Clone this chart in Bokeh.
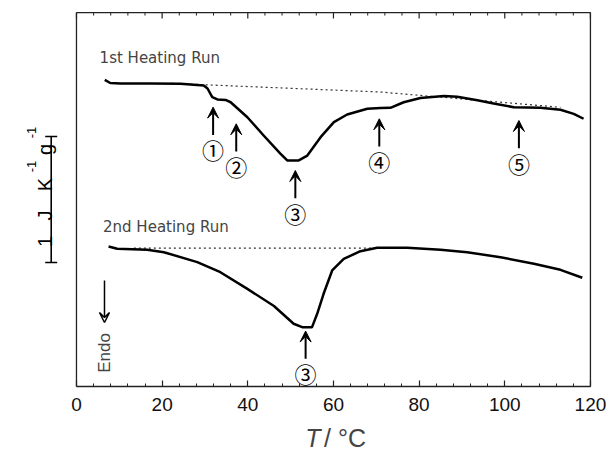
import numpy as np
from bokeh.plotting import figure
from bokeh.layouts import column
from bokeh.models import Range1d, FixedTicker, Arrow, VeeHead, Label
from bokeh.embed import file_html
from bokeh.resources import INLINE

# ---------------- data (T in degC, heat capacity offset in J K-1 g-1) ----------------
t_run1 = [6.6, 7.9, 10.3, 17.3, 24.3, 29.7, 30.6, 31.7, 32.9, 34.8, 36.0, 39.9, 43.7,
          47.6, 49.2, 51.9, 53.9, 57.0, 60.1, 63.2, 67.9, 71.0, 73.3, 76.4, 80.3, 85.8,
          88.9, 93.6, 97.4, 102.1, 108.3, 113.0, 116.1, 118.4]
c_run1 = [2.434, 2.409, 2.405, 2.405, 2.402, 2.389, 2.365, 2.296, 2.278, 2.274, 2.256,
          2.137, 1.992, 1.849, 1.794, 1.794, 1.833, 1.979, 2.098, 2.159, 2.204, 2.210,
          2.212, 2.256, 2.290, 2.305, 2.300, 2.272, 2.246, 2.217, 2.212, 2.196, 2.164, 2.125]
t_base1 = [22.0, 71.0, 113.0]
c_base1 = [2.406, 2.337, 2.216]

t_run2 = [7.5, 9.5, 16.5, 20.4, 28.2, 33.6, 39.9, 46.1, 50.7, 52.7, 55.0, 56.2, 57.7,
          59.7, 62.4, 66.3, 70.2, 77.2, 85.0, 91.2, 99.0, 106.8, 113.0, 118.1]
c_run2 = [1.111, 1.093, 1.085, 1.066, 0.987, 0.907, 0.775, 0.639, 0.498, 0.471, 0.471,
          0.577, 0.736, 0.921, 1.013, 1.074, 1.101, 1.101, 1.085, 1.066, 1.026, 0.974,
          0.926, 0.863]
t_base2 = [13.4, 70.0]
c_base2 = [1.098, 1.098]

# transition markers: label, temperature, arrow tip level
peak_labels = ["\u2460", "\u2461", "\u2462", "\u2463", "\u2464", "\u2462"]
peak_T = [31.9, 37.3, 51.1, 70.7, 103.3, 53.5]
peak_tip = [2.217, 2.085, 1.714, 2.125, 2.111, 0.440]

x_major = [0, 20, 40, 60, 80, 100, 120]
x_minor = [t for t in range(0, 121, 4) if t % 20 != 0]

scale_bar_base = 0.984    # J K-1 g-1
scale_bar_len = 1.0       # J K-1 g-1

X0, X1 = 0, 120           # box extent (degC)
Y_TOP = 2.968             # top of the box

# ---------------- main figure ----------------
p = figure(width=609, height=420, output_backend="svg", toolbar_location=None,
           x_range=Range1d(-13.07, 120.95), y_range=Range1d(0, 3.0),
           y_axis_location=None, min_border_left=20, min_border_right=15,
           min_border_top=8, min_border_bottom=34)
p.outline_line_color = None
p.grid.grid_line_color = None
p.background_fill_color = "white"
p.border_fill_color = "white"

ax = p.below[0]
ax.ticker = FixedTicker(ticks=x_major, minor_ticks=x_minor + x_major)
ax.bounds = (X0, X1)
ax.axis_line_color = "#222222"
ax.axis_line_width = 1.3
ax.major_tick_in = 6
ax.major_tick_out = 0
ax.minor_tick_in = 3
ax.minor_tick_out = 0
ax.major_tick_line_color = "#222222"
ax.minor_tick_line_color = "#222222"
ax.major_tick_line_width = 1.2
ax.minor_tick_line_width = 1.0
ax.major_label_text_font = "Liberation Sans"
ax.major_label_text_font_size = "19px"
ax.major_label_text_color = "#111111"
ax.major_label_standoff = 11

# box: left, right, top borders
p.segment(x0=[X0, X1, X0], y0=[0, 0, Y_TOP], x1=[X0, X1, X1], y1=[Y_TOP, Y_TOP, Y_TOP],
          line_color="#222222", line_width=1.3)
# top inward ticks
p.segment(x0=x_major, y0=[Y_TOP] * len(x_major), x1=x_major,
          y1=[Y_TOP - 0.048] * len(x_major), line_color="#222222", line_width=1.2)
p.segment(x0=x_minor, y0=[Y_TOP] * len(x_minor), x1=x_minor,
          y1=[Y_TOP - 0.024] * len(x_minor), line_color="#222222", line_width=1.0)

# curves
p.line(t_base1, c_base1, line_color="#333333", line_width=1.2, line_dash="2 3")
p.line(t_base2, c_base2, line_color="#333333", line_width=1.2, line_dash="2 3")
p.line(t_run1, c_run1, line_color="black", line_width=2.5, line_join="round")
p.line(t_run2, c_run2, line_color="black", line_width=2.5, line_join="round")

# transition arrows and circled numbers
arrow_len = 0.22
label_gap = 0.115
for lab, t, tip in zip(peak_labels, peak_T, peak_tip):
    p.add_layout(Arrow(x_start=t, y_start=tip - arrow_len, x_end=t, y_end=tip,
                       line_width=2, line_color="black",
                       end=VeeHead(size=11, line_color="black", fill_color="black", line_width=1)))
    p.add_layout(Label(x=t, y=tip - arrow_len - label_gap, text=lab,
                       text_align="center", text_baseline="middle",
                       text_font="Noto Sans CJK JP", text_font_size="22px", text_color="black"))

# run labels
p.add_layout(Label(x=5.4, y=2.611, text="1st Heating Run", text_align="left",
                   text_baseline="middle", text_font="DejaVu Sans", text_font_size="15px"))
p.add_layout(Label(x=6.2, y=1.264, text="2nd Heating Run", text_align="left",
                   text_baseline="middle", text_font="DejaVu Sans", text_font_size="15px"))

# Endo arrow
p.add_layout(Arrow(x_start=6.54, y_start=0.841, x_end=6.54, y_end=0.508, line_width=1.5,
                   line_color="black",
                   end=VeeHead(size=10, line_color="black", fill_color="white", line_width=1.5)))
p.add_layout(Label(x=6.54, y=0.266, text="Endo", angle=90, angle_units="deg",
                   text_align="center", text_baseline="middle",
                   text_font="Liberation Sans", text_font_size="17px"))

# scale bar
sb_x = -5.9
sb_cap = 1.4
p.segment(x0=[sb_x, sb_x - sb_cap, sb_x - sb_cap],
          y0=[scale_bar_base, scale_bar_base, scale_bar_base + scale_bar_len],
          x1=[sb_x, sb_x + sb_cap, sb_x + sb_cap],
          y1=[scale_bar_base + scale_bar_len, scale_bar_base, scale_bar_base + scale_bar_len],
          line_color="black", line_width=1.6)
unit_parts = [("1", 1.151, False), ("J", 1.357, False), ("K", 1.603, False),
              ("-1", 1.746, True), ("g", 1.881, False), ("-1", 2.016, True)]
for txt, yy, sup in unit_parts:
    p.add_layout(Label(x=-10.5 if sup else -7.24, y=yy, text=txt, angle=90, angle_units="deg",
                       text_align="center", text_baseline="alphabetic",
                       text_font="Liberation Sans", text_color="black",
                       text_font_size="13px" if sup else "20px"))

# ---------------- strip under the plot for the axis title ----------------
pt = figure(width=609, height=30, output_backend="svg", toolbar_location=None,
            x_range=Range1d(0, 609), y_range=Range1d(0, 30),
            x_axis_location=None, y_axis_location=None,
            min_border_left=0, min_border_right=0, min_border_top=0, min_border_bottom=0)
pt.outline_line_color = None
pt.grid.grid_line_color = None
pt.background_fill_color = "white"
pt.border_fill_color = "white"
pt.add_layout(Label(x=302, y=13, text="T", text_align="left", text_baseline="middle",
                    text_font="Liberation Sans", text_font_style="italic", text_font_size="25px"))
pt.add_layout(Label(x=322, y=13, text="/ \u00b0C", text_align="left", text_baseline="middle",
                    text_font="Liberation Sans", text_font_size="25px"))

layout = column(p, pt, spacing=0)
open("out.html", "w").write(file_html(layout, INLINE))
